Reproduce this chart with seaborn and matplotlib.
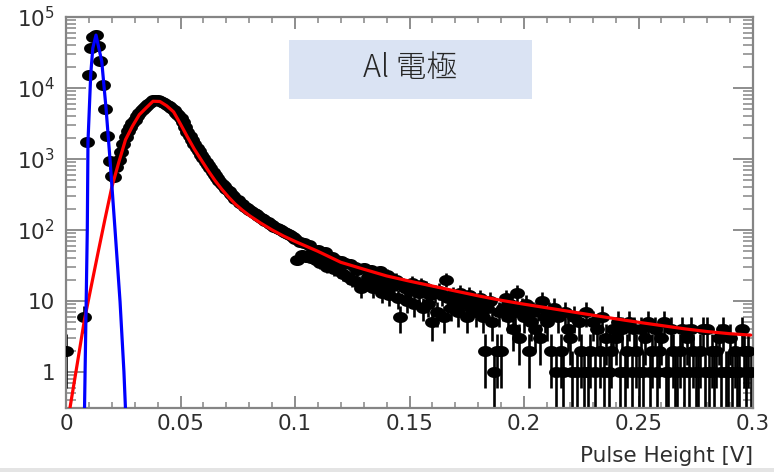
import numpy as np
import pandas as pd
import matplotlib
matplotlib.use("Agg")
import matplotlib.pyplot as plt
import seaborn as sns
from matplotlib.ticker import MultipleLocator, LogLocator, NullFormatter
from matplotlib.patches import Rectangle
from matplotlib.path import Path

# ---- pulse-height histogram: 1 mV bins from 0 to 0.3 V -------------------
bin_width = 0.001
counts = [
    2, 0, 0, 0, 0, 0, 0, 0, 6, 1750,
    15000, 36000, 52000, 55000, 39000, 24000, 11000, 5100, 2100, 940,
    580, 560, 760, 980, 1250, 1600, 2050, 2450, 2800, 3200,
    3550, 4000, 4500, 4900, 5250, 5600, 6000, 6300, 6700, 6800,
    6700, 6500, 6300, 6050, 5800, 5500, 5150, 4850, 4500, 4150,
    3800, 3350, 2850, 2400, 2080, 1830, 1630, 1450, 1290, 1150,
    1020, 915, 820, 735, 650, 595, 540, 490, 448, 410,
    372, 350, 316, 298, 270, 260, 236, 230, 212, 205,
    190, 183, 171, 168, 156, 146, 143, 133, 130, 120,
    117, 111, 108, 102, 100, 93, 91, 87, 84, 80,
    74, 38, 68, 45, 66, 42, 62, 40, 50, 38,
    52, 34, 44, 49, 30, 36, 42, 28, 38, 26,
    36, 24, 34, 22, 33, 20, 30, 27, 18, 15,
    29, 18, 22, 27, 15, 18, 21, 26, 13, 17,
    23, 12, 21, 16, 20, 11, 6, 17, 15, 10,
    14, 18, 9, 16, 13, 17, 8, 15, 9, 12,
    5, 13, 7, 14, 12, 6, 20, 11, 8, 12,
    10, 7, 13, 9, 11, 6, 12, 8, 10, 7,
    9, 11, 6, 2, 8, 10, 5, 1, 2, 7,
    2, 8, 11, 6, 9, 4, 7, 13, 3, 8,
    6, 9, 2, 5, 7, 4, 8, 3, 10, 6,
    5, 7, 2, 8, 1, 6, 2, 1, 7, 4,
    3, 1, 6, 1, 5, 2, 1, 7, 1, 2,
    5, 1, 4, 2, 6, 1, 3, 1, 2, 4,
    3, 5, 1, 4, 1, 2, 5, 1, 4, 2,
    1, 4, 1, 3, 5, 1, 2, 4, 1, 2,
    3, 5, 1, 1, 4, 2, 1, 1, 2, 4,
    1, 3, 1, 4, 2, 1, 1, 2, 4, 1,
    4, 1, 2, 1, 2, 3, 1, 4, 1, 1,
    3, 1, 2, 1, 1, 4, 2, 1, 2, 1,
]
bin_centres = np.round(np.arange(len(counts)) * bin_width, 4)

# ---- pedestal fit (blue) ---------------------------------------------------
pedestal_x = [0.0080, 0.0093, 0.0096, 0.0108, 0.0117, 0.0131,
              0.0156, 0.0175, 0.0192, 0.0214, 0.0236, 0.0253, 0.0262]
pedestal_y = [0.2, 102, 1750, 15600, 36400, 55600,
              23800, 5100, 1000, 102, 9.8, 1.0, 0.2]

# ---- signal fit (red) ------------------------------------------------------
signal_x = [0.000, 0.002, 0.005, 0.008, 0.011, 0.014, 0.017, 0.020, 0.023,
            0.026, 0.029, 0.032, 0.035, 0.038, 0.041, 0.044, 0.047, 0.050,
            0.053, 0.056, 0.059, 0.062, 0.065, 0.068, 0.071, 0.074, 0.077,
            0.080, 0.085, 0.090, 0.095, 0.100, 0.110, 0.120, 0.130, 0.140,
            0.150, 0.160, 0.170, 0.180, 0.190, 0.200, 0.210, 0.220, 0.230,
            0.240, 0.250, 0.260, 0.270, 0.280, 0.290, 0.299]
signal_y = [0.14, 0.35, 1.35, 5.3, 16, 48, 141, 400, 885,
            1870, 2890, 4200, 5250, 6500, 6450, 5600, 4600, 3100,
            2050, 1380, 975, 690, 500, 375, 290, 230, 190,
            160, 125, 100, 82, 69, 50, 35, 28, 22.5,
            19, 16.2, 13.8, 11.8, 10.2, 9.0, 8.0, 7.1, 6.3,
            5.6, 5.0, 4.5, 4.05, 3.7, 3.45, 3.3]

x_ticks = [0, 0.05, 0.10, 0.15, 0.20, 0.25, 0.30]
x_tick_labels = ["0", "0.05", "0.1", "0.15", "0.2", "0.25", "0.3"]
y_ticks = [1, 10, 1e2, 1e3, 1e4, 1e5]
y_tick_labels = ["1", "10", "$10^{2}$", "$10^{3}$", "$10^{4}$", "$10^{5}$"]

title_text = "Al 電極"
x_label = "Pulse Height [V]"

# ---- style -----------------------------------------------------------------
sns.set_theme(style="ticks")
plt.rcParams["font.family"] = ["DejaVu Sans"]
plt.rcParams["mathtext.default"] = "regular"

W, H = 774, 472
fig = plt.figure(figsize=(W / 100, H / 100), dpi=100)
fig.patch.set_facecolor("white")
ax = fig.add_axes([66 / W, (H - 408) / H, 687 / W, 391 / H])
ax.set_facecolor("white")

# slightly wide round marker (the frame is stretched horizontally)
theta = np.linspace(0, 2 * np.pi, 41)
wide_dot = Path(np.column_stack([1.35 * np.cos(theta), np.sin(theta)]), closed=True)

hist = pd.DataFrame({"pulse_height": bin_centres, "counts": counts})
hist = hist[hist["counts"] > 0].copy()
err = np.sqrt(hist["counts"])
lower = np.clip(hist["counts"] - err, 1e-3, None)
upper = hist["counts"] + err

ax.vlines(hist["pulse_height"], lower, upper, color="black", lw=1.9, zorder=2)
sns.scatterplot(data=hist, x="pulse_height", y="counts", color="black",
                marker=wide_dot, s=115, linewidth=0, ax=ax, zorder=3,
                legend=False)
sns.lineplot(x=signal_x, y=signal_y, color="#ff0000", lw=2.3, ax=ax,
             zorder=4, sort=False, legend=False)
sns.lineplot(x=pedestal_x, y=pedestal_y, color="#0000ff", lw=2.3, ax=ax,
             zorder=5, sort=False, legend=False)

ax.set_yscale("log")
ax.set_xlim(0, 0.3)
ax.set_ylim(0.31, 1e5)
ax.set_xlabel("")
ax.set_ylabel("")

frame_col = "#858585"
text_col = "#2e2e2e"
for sp in ax.spines.values():
    sp.set_visible(True)
    sp.set_color(frame_col)
    sp.set_linewidth(1.6)

ax.set_xticks(x_ticks, labels=x_tick_labels)
ax.xaxis.set_minor_locator(MultipleLocator(0.01))
ax.set_yticks(y_ticks, labels=y_tick_labels)
ax.yaxis.set_minor_locator(LogLocator(base=10, subs=np.arange(2, 10), numticks=30))
ax.yaxis.set_minor_formatter(NullFormatter())

ax.tick_params(axis="x", which="major", direction="in", length=8.6, width=1.3,
               top=True, bottom=True, color=frame_col, labelsize=15.5,
               labelcolor=text_col, pad=4)
ax.tick_params(axis="x", which="minor", direction="in", length=4.3, width=1.1,
               top=True, bottom=True, color=frame_col)
ax.tick_params(axis="y", which="major", direction="in", length=14.4, width=1.3,
               left=True, right=True, color=frame_col, labelsize=15.5,
               labelcolor=text_col, pad=8)
ax.tick_params(axis="y", which="minor", direction="in", length=7.2, width=1.1,
               left=True, right=True, color=frame_col)

# thin grey strip along the lower edge
fig.patches.append(Rectangle((0, 0), 1, 4 / H, transform=fig.transFigure,
                             facecolor="#e4e4e4", edgecolor="none", zorder=1))

# axis title, bottom right
fig.text(753 / W, 1 - 446 / H, x_label, ha="right", va="top",
         fontsize=15.5, color=text_col, zorder=8)

# label box
fig.patches.append(Rectangle((289 / W, 1 - 99 / H), 243 / W, 59 / H,
                             transform=fig.transFigure, facecolor="#dae3f3",
                             edgecolor="none", zorder=6))
fig.text(410 / W, 1 - 68 / H, title_text, ha="center", va="center",
         fontsize=22, color="#262626", fontweight="light",
         family=["Noto Sans CJK JP", "DejaVu Sans"], zorder=7)

fig.savefig("out.png", dpi=100)
